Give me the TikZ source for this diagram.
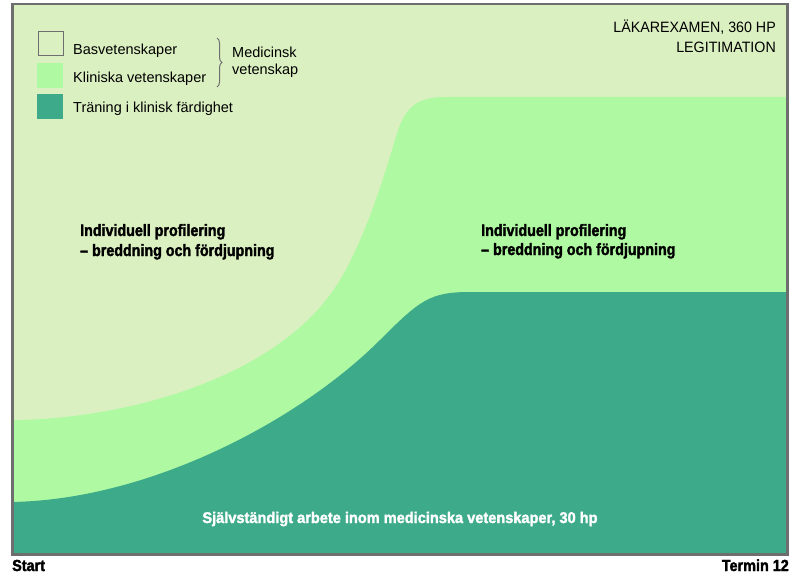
\documentclass[tikz,border=0pt]{standalone}
\usepackage{fontspec}
\setmainfont{Liberation Sans}
\newfontfamily\condbold[FakeStretch=0.865,FakeBold=2]{Liberation Sans Bold}
\newfontfamily\condboldb[FakeStretch=0.94,FakeBold=2]{Liberation Sans Bold}
\newfontfamily\condboldc[FakeStretch=0.9,FakeBold=2]{Liberation Sans Bold}
\newfontfamily\topfont[FakeStretch=0.95]{Liberation Sans}
\usetikzlibrary{decorations.pathreplacing}
\definecolor{bgc}{HTML}{DBF0C1}
\definecolor{midc}{HTML}{AEF9A1}
\definecolor{darkc}{HTML}{3DAA8A}
\definecolor{framec}{HTML}{6E6E6E}
\tikzset{
  legtext/.style={anchor=base west, inner sep=0pt, font=\fontsize{14.5}{17}\selectfont},
  boldlab/.style={anchor=base west, inner sep=0pt, font=\condbold\fontsize{16.5}{19}\selectfont},
  legbox/.style={minimum width=26pt, minimum height=25pt, inner sep=0pt, anchor=north west},
  toptext/.style={anchor=base east, inner sep=0pt, font=\topfont\fontsize{15}{18}\selectfont},
  axislab/.style={inner sep=0pt, font=\condboldc\fontsize{16}{18}\selectfont},
}
\begin{document}
\begin{tikzpicture}[x=1pt,y=-1pt]
\useasboundingbox (0,0) rectangle (793,575);
\fill[white] (0,0) rectangle (793,575);
\begin{scope}
  \clip (11,3) rectangle (786,553);
  \fill[bgc] (11,3) rectangle (786,553);
  \fill[midc] (11,420) .. controls (120,420) and (280,380) .. (340,280)
     .. controls (365,238) and (383,180) .. (395,140)
     .. controls (403,112) and (412,97) .. (445,97) -- (786,97) -- (786,553) -- (11,553) -- cycle;
  \fill[darkc] (11,502) .. controls (150,500) and (300,420) .. (380,340)
     .. controls (420,300) and (430,292) .. (470,292) -- (786,292) -- (786,553) -- (11,553) -- cycle;
\end{scope}
\node[draw=framec, line width=2.5pt, minimum width=775pt, minimum height=550pt, inner sep=0pt, anchor=north west] (frame) at (11,3) {};

% legend
\node[legbox, draw=framec, line width=1pt, fill=bgc, minimum width=25pt, minimum height=24pt] (b1) at (37.5,31.5) {};
\node[legbox, fill=midc] (b2) at (37,63) {};
\node[legbox, fill=darkc] (b3) at (37,94) {};
\node[legtext] (t1) at (73,55) {Basvetenskaper};
\node[legtext] (t2) at (73,83) {Kliniska vetenskaper};
\node[legtext] (t3) at (73,113) {Träning i klinisk färdighet};
\coordinate (brtop) at (217,38);
\coordinate (brbot) at (217,87);
\draw[framec, line width=1pt, decorate, decoration={brace, amplitude=5pt}] (brtop) -- (brbot);
\node[legtext] (med1) at (232,58) {Medicinsk};
\node[legtext] (med2) at (232,75) {vetenskap};

% top right
\node[toptext] (exam) at (776,33) {LÄKAREXAMEN, 360 HP};
\node[toptext] (legit) at (776,53) {LEGITIMATION};

% labels
\node[boldlab] (p1a) at (80,236) {Individuell profilering};
\node[boldlab] (p1b) at (80,256) {– breddning och fördjupning};
\node[boldlab] (p2a) at (481,236) {Individuell profilering};
\node[boldlab] (p2b) at (481,255) {– breddning och fördjupning};

\node[anchor=base, inner sep=0pt, text=white, font=\condboldb\fontsize{15.5}{18}\selectfont] (arb) at (400,523) {Självständigt arbete inom medicinska vetenskaper, 30 hp};

\node[axislab, anchor=base west] (start) at (12,571) {Start};
\node[axislab, anchor=base east] (term) at (789,571) {Termin 12};
\end{tikzpicture}
\end{document}
